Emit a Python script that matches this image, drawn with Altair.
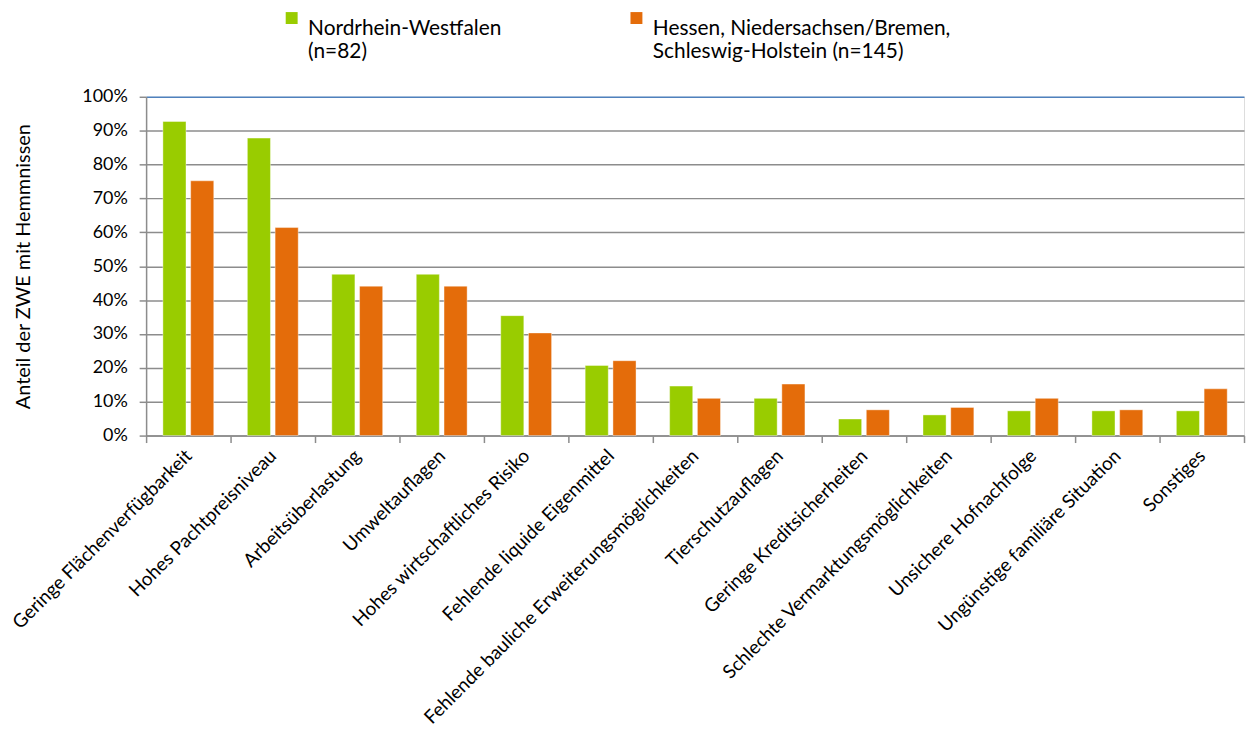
import altair as alt
import pandas as pd

categories = [
    "Geringe Flächenverfügbarkeit",
    "Hohes Pachtpreisniveau",
    "Arbeitsüberlastung",
    "Umweltauflagen",
    "Hohes wirtschaftliches Risiko",
    "Fehlende liquide Eigenmittel",
    "Fehlende bauliche Erweiterungsmöglichkeiten",
    "Tierschutzauflagen",
    "Geringe Kreditsicherheiten",
    "Schlechte Vermarktungsmöglichkeiten",
    "Unsichere Hofnachfolge",
    "Ungünstige familiäre Situation",
    "Sonstiges",
]
nrw = [92.7, 87.8, 47.6, 47.6, 35.4, 20.7, 14.6, 11.0, 4.9, 6.1, 7.3, 7.3, 7.3]
hns = [75.2, 61.4, 44.1, 44.1, 30.3, 22.1, 11.0, 15.2, 7.6, 8.3, 11.0, 7.6, 13.8]
series = ["Nordrhein-Westfalen|(n=82)", "Hessen, Niedersachsen/Bremen,|Schleswig-Holstein (n=145)"]
colors = ["#99cc00", "#e46c0a"]
y_ticks = [0, 0.1, 0.2, 0.3, 0.4, 0.5, 0.6, 0.7, 0.8, 0.9, 1.0]

rows = []
for c, a, b in zip(categories, nrw, hns):
    rows.append({"Kategorie": c, "Serie": series[0], "Anteil": a / 100})
    rows.append({"Kategorie": c, "Serie": series[1], "Anteil": b / 100})
df = pd.DataFrame(rows)

FONT = "Lato"
GRAY = "#8c8c8c"

bars = alt.Chart(df).mark_bar(stroke="white", strokeWidth=0.8, strokeOpacity=0.5).encode(
    x=alt.X(
        "Kategorie:N",
        sort=categories,
        scale=alt.Scale(paddingInner=0, paddingOuter=0),
        axis=alt.Axis(
            title=None,
            labelAngle=-45,
            labelAlign="right",
            labelBaseline="middle",
            labelFont=FONT,
            labelFontSize=19,
            labelColor="#000000",
            labelLimit=0,
            labelPadding=10,
            tickBand="extent",
            tickSize=7,
            tickColor=GRAY,
            tickWidth=1.5,
            domainColor=GRAY,
            domainWidth=1.5,
            grid=False,
        ),
    ),
    xOffset=alt.XOffset(
        "Serie:N",
        sort=series,
        scale=alt.Scale(paddingInner=0.168, paddingOuter=0.605),
    ),
    y=alt.Y(
        "Anteil:Q",
        scale=alt.Scale(domain=[0, 1], nice=False),
        axis=alt.Axis(
            title="Anteil der ZWE mit Hemmnissen",
            titleFont=FONT,
            titleFontSize=20,
            titleFontWeight="normal",
            titleColor="#000000",
            titlePadding=49,
            values=y_ticks,
            format=".0%",
            labelFont=FONT,
            labelFontSize=18,
            labelColor="#000000",
            labelPadding=12,
            labelOverlap=False,
            tickSize=7,
            tickColor=GRAY,
            tickWidth=1.5,
            domainColor=GRAY,
            domainWidth=1.5,
            grid=True,
            gridColor={"condition": {"test": "datum.value >= 0.999", "value": "#4f81bd"}, "value": GRAY},
            gridWidth=1.5,
        ),
    ),
    color=alt.Color(
        "Serie:N",
        sort=series,
        scale=alt.Scale(domain=series, range=colors),
        legend=alt.Legend(
            title=None,
            orient="none",
            legendX=136,
            legendY=-90,
            direction="horizontal",
            symbolType="square",
            symbolSize=144,
            symbolStrokeWidth=0,
            labelFont=FONT,
            labelFontSize=21,
            labelColor="#000000",
            labelExpr="split(datum.label, '|')",
            labelLimit=0,
            labelOffset=6,
            labelBaseline="top",
            columnPadding=125,
        ),
    ),
)

chart = bars.properties(
    width=1105,
    height=341,
    autosize=alt.AutoSizeParams(type="none"),
    padding={"left": 139, "top": 87, "right": 2, "bottom": 300},
).configure_view(stroke=None).configure(background="white")

chart.save("out.html", embed_options={"renderer": "svg", "actions": False})
